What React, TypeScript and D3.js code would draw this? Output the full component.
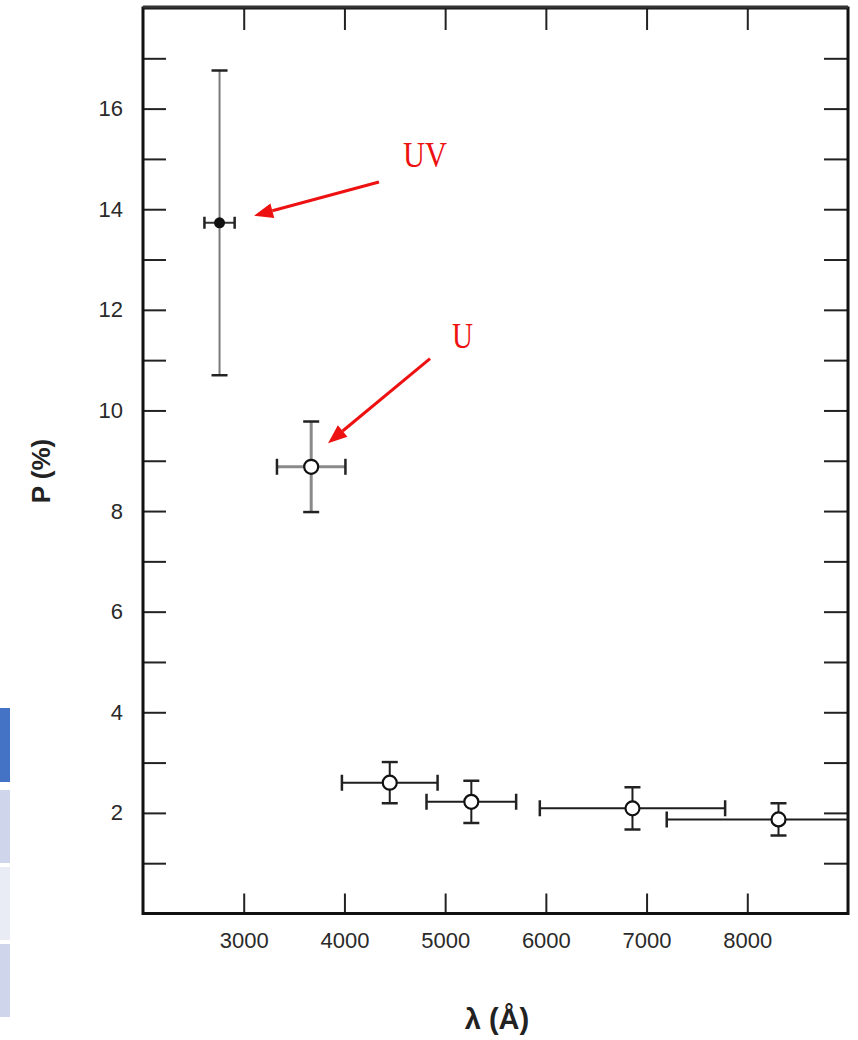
import { useEffect, useRef } from 'react';
import * as d3 from 'd3';

// Broadband polarization vs wavelength
const bands = ['UV', 'U', 'B', 'V', 'R', 'I'];
const wavelength = [2760, 3670, 4450, 5260, 6860, 8310];
const wavelengthErr = [150, 340, 475, 445, 920, 1110];
const polarization = [13.73, 8.88, 2.6, 2.22, 2.09, 1.87];
const polarizationErr = [3.03, 0.9, 0.41, 0.42, 0.42, 0.32];

const xTicks = [3000, 4000, 5000, 6000, 7000, 8000];
const yTicks = d3.range(1, 18);
const yTickLabels = [2, 4, 6, 8, 10, 12, 14, 16];

// red annotations, in data units
const annotationLabels = ['UV', 'U'];
const annotationText = [[4582, 14.84], [5068, 11.24]];
const annotationTail = [[4343, 14.54], [4850, 11.03]];
const annotationTip = [[3102, 13.87], [3837, 9.35]];

export default function App() {
  const svgRef = useRef<SVGSVGElement>(null);

  useEffect(() => {
    if (!svgRef.current) return;
    const root = d3.select(svgRef.current);
    root.selectAll('*').remove();

    const W = 858;
    const H = 1040;
    const margin = { top: 8, right: 10, bottom: 126.5, left: 143 };
    const width = W - margin.left - margin.right;
    const height = H - margin.top - margin.bottom;

    root.attr('width', W).attr('height', H);

    // leftover table strip on the left edge
    const strip = [
      [708, 782, '#4472c4'],
      [790, 863, '#cfd5ea'],
      [867, 940, '#e9ebf5'],
      [944, 1017, '#cfd5ea'],
    ];
    root
      .selectAll('rect.strip')
      .data(strip)
      .enter()
      .append('rect')
      .attr('class', 'strip')
      .attr('x', 0)
      .attr('y', (d) => d[0] as number)
      .attr('width', 10)
      .attr('height', (d) => (d[1] as number) - (d[0] as number))
      .attr('fill', (d) => d[2] as string);

    const g = root.append('g').attr('transform', `translate(${margin.left},${margin.top})`);

    const x = d3.scaleLinear().domain([2000, 9000]).range([0, width]);
    const y = d3.scaleLinear().domain([0, 18]).range([height, 0]);

    const font = "'Liberation Sans', Arial, Helvetica, sans-serif";

    // axes with inward ticks
    const left = g
      .append('g')
      .call(
        d3
          .axisLeft(y)
          .tickValues(yTicks)
          .tickSizeInner(-23)
          .tickSizeOuter(0)
          .tickPadding(20)
          .tickFormat((d) => (yTickLabels.includes(d as number) ? String(d) : ''))
      );
    const right = g
      .append('g')
      .attr('transform', `translate(${width},0)`)
      .call(d3.axisRight(y).tickValues(yTicks).tickSizeInner(-24).tickSizeOuter(0).tickFormat(() => ''));
    const bottom = g
      .append('g')
      .attr('transform', `translate(0,${height})`)
      .call(d3.axisBottom(x).tickValues(xTicks).tickSizeInner(-20).tickSizeOuter(0).tickPadding(19).tickFormat(d3.format('d')));
    const top = g
      .append('g')
      .call(d3.axisTop(x).tickValues(xTicks).tickSizeInner(-22).tickSizeOuter(0).tickFormat(() => ''));

    [left, right, bottom, top].forEach((ax) => {
      ax.select('.domain').remove();
      ax.selectAll('line').attr('stroke', '#222').attr('stroke-width', 2);
      ax.selectAll('text')
        .attr('fill', '#2a2a2a')
        .attr('font-family', font)
        .attr('font-size', 22);
    });

    // frame
    g.append('rect')
      .attr('x', 0)
      .attr('y', 0)
      .attr('width', width)
      .attr('height', height)
      .attr('fill', 'none')
      .attr('stroke', '#111')
      .attr('stroke-width', 3);
    g.append('line')
      .attr('x1', 0)
      .attr('x2', width)
      .attr('y1', -1)
      .attr('y2', -1)
      .attr('stroke', '#333')
      .attr('stroke-width', 3);

    // clip the error bars to the plot area
    root
      .append('defs')
      .append('clipPath')
      .attr('id', 'plot-clip')
      .append('rect')
      .attr('x', 0)
      .attr('y', 0)
      .attr('width', width)
      .attr('height', height);

    const pts = g.append('g').attr('clip-path', 'url(#plot-clip)');
    const cap = 8;

    bands.forEach((band, i) => {
      const cx = x(wavelength[i]);
      const cy = y(polarization[i]);
      const x0 = x(wavelength[i] - wavelengthErr[i]);
      const x1 = x(wavelength[i] + wavelengthErr[i]);
      const y0 = y(polarization[i] - polarizationErr[i]);
      const y1 = y(polarization[i] + polarizationErr[i]);
      const grey = i < 2;
      const barColor = i === 0 ? '#7a7a7a' : grey ? '#8a8a8a' : '#1e1e1e';
      const barWidth = i === 1 ? 3 : 2;

      const p = pts.append('g').attr('class', `band-${band}`);
      // vertical
      p.append('line').attr('x1', cx).attr('x2', cx).attr('y1', y0).attr('y2', y1)
        .attr('stroke', barColor).attr('stroke-width', barWidth);
      // horizontal
      p.append('line').attr('x1', x0).attr('x2', x1).attr('y1', cy).attr('y2', cy)
        .attr('stroke', i === 0 ? '#333' : barColor).attr('stroke-width', barWidth);
      // caps
      [y0, y1].forEach((yy) =>
        p.append('line').attr('x1', cx - cap).attr('x2', cx + cap).attr('y1', yy).attr('y2', yy)
          .attr('stroke', '#222').attr('stroke-width', 2.5)
      );
      [x0, x1].forEach((xx) =>
        p.append('line').attr('x1', xx).attr('x2', xx).attr('y1', cy - (i === 0 ? 6 : cap)).attr('y2', cy + (i === 0 ? 6 : cap))
          .attr('stroke', '#222').attr('stroke-width', 2.5)
      );
      if (i === 0) {
        p.append('circle').attr('cx', cx).attr('cy', cy).attr('r', 5.5).attr('fill', '#111');
      } else {
        p.append('circle').attr('cx', cx).attr('cy', cy).attr('r', 7)
          .attr('fill', '#fff').attr('stroke', '#111').attr('stroke-width', 2.2);
      }
    });

    // axis titles
    g.append('text')
      .attr('transform', `translate(${41 - margin.left},${471 - margin.top}) rotate(-90)`)
      .attr('text-anchor', 'middle')
      .attr('dominant-baseline', 'central')
      .attr('font-family', font)
      .attr('font-weight', 'bold')
      .attr('font-size', 26)
      .attr('fill', '#222')
      .text('P (%)');
    g.append('text')
      .attr('x', 497 - margin.left)
      .attr('y', 1029 - margin.top)
      .attr('text-anchor', 'middle')
      .attr('font-family', font)
      .attr('font-weight', 'bold')
      .attr('font-size', 29)
      .attr('fill', '#222')
      .text('λ (Å)');

    // red arrows and labels
    const red = '#ee1111';
    annotationLabels.forEach((label, i) => {
      const tx = x(annotationTail[i][0]);
      const ty = y(annotationTail[i][1]);
      const hx = x(annotationTip[i][0]);
      const hy = y(annotationTip[i][1]);
      const ang = Math.atan2(hy - ty, hx - tx);
      const headLen = 19;
      const headHalf = 7.5;
      const bx = hx - headLen * Math.cos(ang);
      const by = hy - headLen * Math.sin(ang);
      g.append('line').attr('x1', tx).attr('y1', ty).attr('x2', bx).attr('y2', by)
        .attr('stroke', red).attr('stroke-width', 3);
      const head = [
        [hx, hy],
        [bx + headHalf * Math.sin(ang), by - headHalf * Math.cos(ang)],
        [bx - headHalf * Math.sin(ang), by + headHalf * Math.cos(ang)],
      ];
      g.append('polygon').attr('points', head.map((d) => d.join(',')).join(' ')).attr('fill', red);

      g.append('text')
        .attr('x', x(annotationText[i][0]))
        .attr('y', y(annotationText[i][1]))
        .attr('font-family', "'Liberation Serif', 'Times New Roman', serif")
        .attr('font-size', 36)
        .attr('textLength', label.length === 2 ? 44 : 21)
        .attr('lengthAdjust', 'spacingAndGlyphs')
        .attr('fill', red)
        .text(label);
    });
  }, []);

  return (
    <div style={{ position: 'absolute', left: 0, top: 0, background: '#fff' }}>
      <svg ref={svgRef} style={{ display: 'block' }} />
    </div>
  );
}
